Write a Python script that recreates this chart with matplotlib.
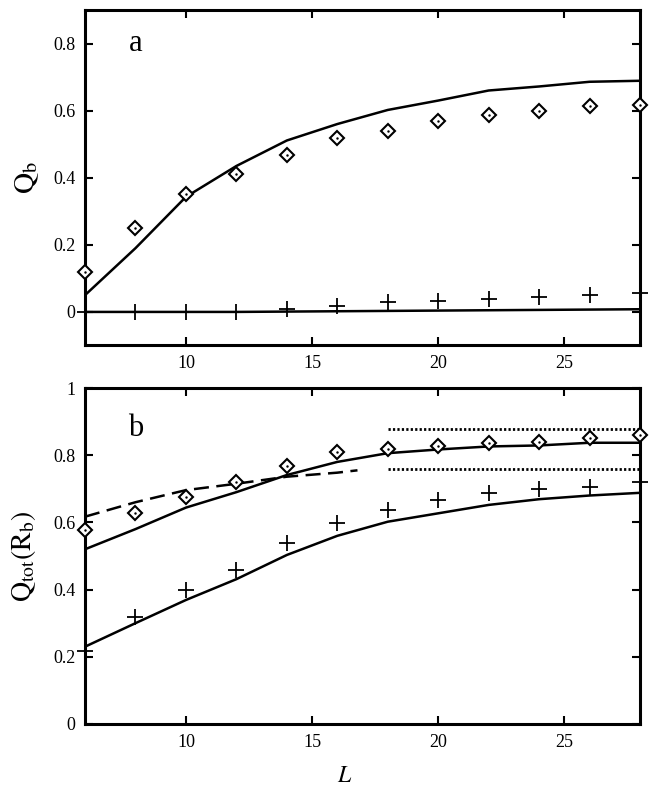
import numpy as np
import matplotlib
matplotlib.use("Agg")
import matplotlib.pyplot as plt

plt.rcParams['font.family'] = ['Liberation Serif', 'DejaVu Serif']
plt.rcParams['mathtext.fontset'] = 'stix'

# chain length
L = [6, 8, 10, 12, 14, 16, 18, 20, 22, 24, 26, 28]

# panel a
qb_diamond = [0.12, 0.25, 0.35, 0.412, 0.469, 0.519, 0.539, 0.569, 0.588, 0.599, 0.614, 0.618]
qb_diamond_line = [0.05, 0.19, 0.343, 0.435, 0.511, 0.56, 0.602, 0.63, 0.66, 0.672, 0.686, 0.689]
qb_plus = [0.0, 0.0, 0.0, 0.0, 0.009, 0.018, 0.029, 0.034, 0.039, 0.044, 0.05, 0.057]
qb_plus_line = [0.0, 0.0, 0.0, 0.0, 0.001, 0.002, 0.003, 0.004, 0.005, 0.006, 0.007, 0.008]

# panel b
qt_diamond = [0.577, 0.629, 0.677, 0.719, 0.768, 0.81, 0.817, 0.827, 0.835, 0.84, 0.85, 0.86]
qt_diamond_line = [0.52, 0.58, 0.644, 0.69, 0.741, 0.78, 0.806, 0.817, 0.826, 0.829, 0.837, 0.837]
qt_plus = [0.218, 0.317, 0.399, 0.458, 0.538, 0.597, 0.637, 0.667, 0.687, 0.698, 0.706, 0.719]
qt_plus_line = [0.23, 0.30, 0.369, 0.431, 0.503, 0.56, 0.602, 0.627, 0.652, 0.669, 0.68, 0.688]
L_dash = [6, 8, 10, 12, 14, 16, 16.8]
qt_dash = [0.617, 0.66, 0.696, 0.715, 0.736, 0.748, 0.755]
L_dot = [18, 28]
dot_levels = [0.878, 0.759]

fig = plt.figure(figsize=(6.58, 7.92), dpi=100)
ax1 = fig.add_axes([0.1292, 0.5638, 0.8435, 0.4236])
ax2 = fig.add_axes([0.1292, 0.0859, 0.8435, 0.4242])

lw = 1.8


def diamonds(ax, x, y):
    ax.plot(x, y, 'D', ms=7.5, mfc='white', mec='black', mew=1.5, clip_on=False, zorder=4)
    ax.plot(x, y, '.', ms=1.5, color='black', clip_on=False, zorder=5)


def pluses(ax, x, y):
    ax.plot(x, y, '+', ms=11, mew=1.3, color='black', clip_on=False, zorder=4)


ax1.plot(L, qb_diamond_line, '-', color='black', lw=lw)
ax1.plot(L, qb_plus_line, '-', color='black', lw=lw)
diamonds(ax1, L, qb_diamond)
pluses(ax1, L, qb_plus)

ax2.plot(L, qt_diamond_line, '-', color='black', lw=lw)
ax2.plot(L, qt_plus_line, '-', color='black', lw=lw)
ax2.plot(L_dash, qt_dash, color='black', lw=lw, dashes=(6, 3))
for lev in dot_levels:
    ax2.plot(L_dot, [lev, lev], color='black', lw=2, dashes=(0.8, 0.8))
diamonds(ax2, L, qt_diamond)
pluses(ax2, L, qt_plus)

ax1.set_ylim(-0.1, 0.9)
ax1.set_yticks([0, 0.2, 0.4, 0.6, 0.8])
ax1.set_yticklabels(['0', '0.2', '0.4', '0.6', '0.8'])
ax2.set_ylim(0, 1)
ax2.set_yticks([0, 0.2, 0.4, 0.6, 0.8, 1])
ax2.set_yticklabels(['0', '0.2', '0.4', '0.6', '0.8', '1'])

for ax in (ax1, ax2):
    ax.set_xlim(6, 28)
    ax.set_xticks([10, 15, 20, 25])
    ax.tick_params(direction='in', top=True, right=True, length=6, width=1.5,
                   labelsize=13, pad=7)
    for s in ax.spines.values():
        s.set_linewidth(2.2)

ax1.set_ylabel(r'$\mathrm{Q_b}$', fontsize=21)
ax2.set_ylabel(r'$\mathrm{Q_{tot}(R_b)}$', fontsize=20)
ax2.set_xlabel(r'$L$', fontsize=17)
ax1.yaxis.set_label_coords(-0.08, 0.5)
ax2.yaxis.set_label_coords(-0.085, 0.5)
ax2.xaxis.set_label_coords(0.468, -0.125)

ax1.text(8, 0.8, 'a', fontsize=22, ha='center', va='center')
ax2.text(8, 0.88, 'b', fontsize=22, ha='center', va='center')

fig.savefig('out.png', dpi=100)
